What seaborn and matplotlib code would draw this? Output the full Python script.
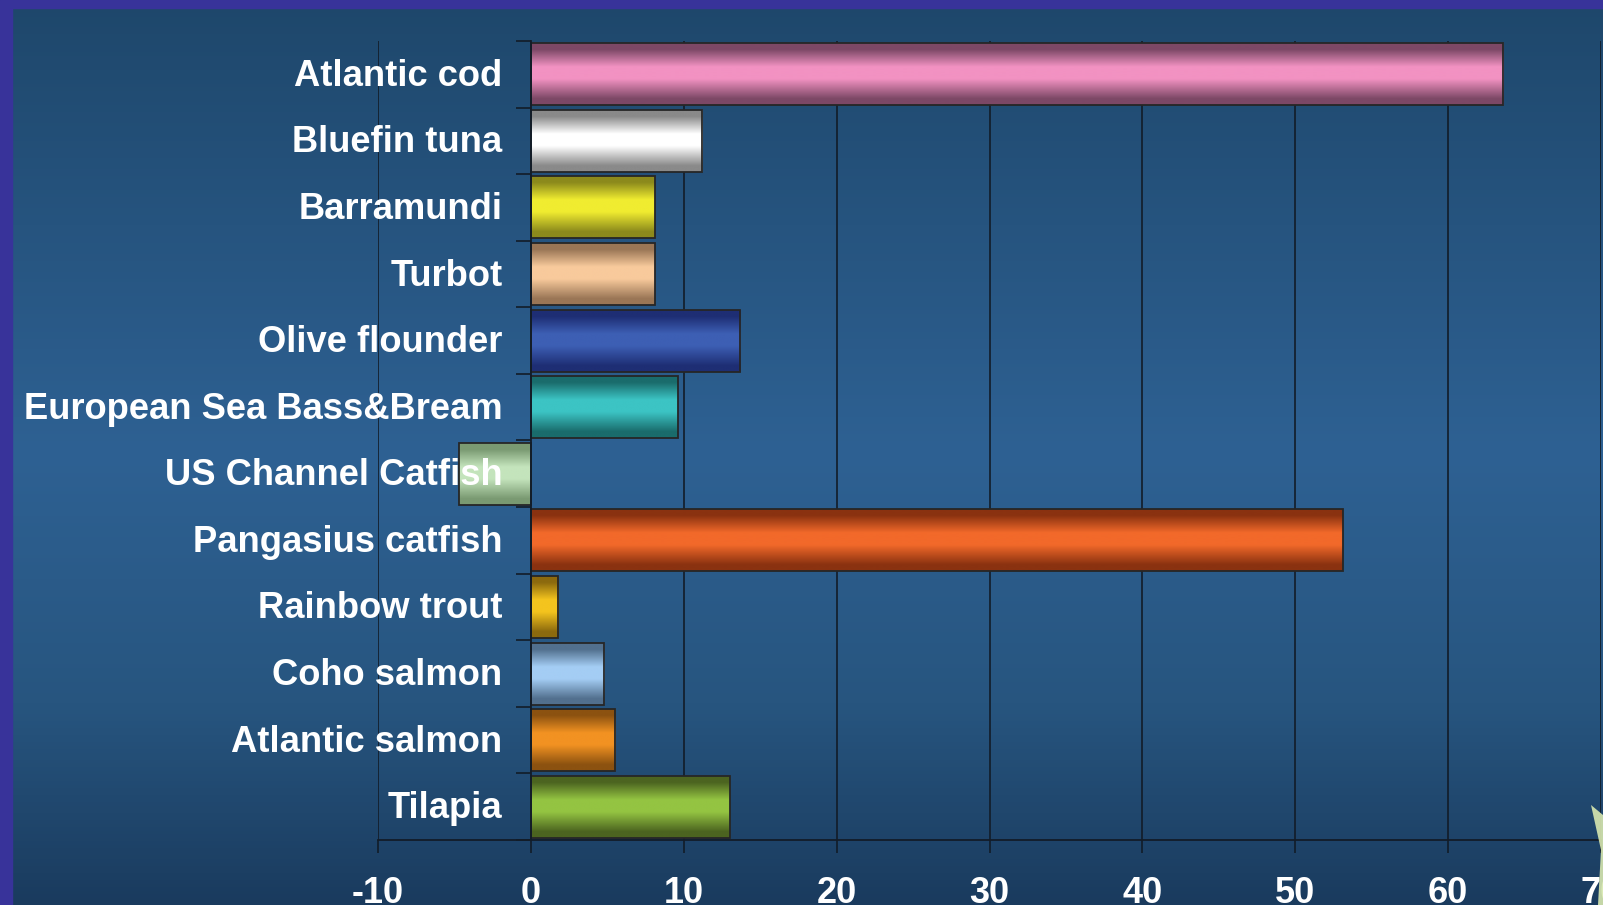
import numpy as np
import pandas as pd
import matplotlib
matplotlib.use("Agg")
import matplotlib.pyplot as plt
import seaborn as sns
from matplotlib.colors import LinearSegmentedColormap
from matplotlib.patches import Rectangle, Polygon

species = ["Atlantic cod", "Bluefin tuna", "Barramundi", "Turbot", "Olive flounder",
           "European Sea Bass&Bream", "US Channel Catfish", "Pangasius catfish",
           "Rainbow trout", "Coho salmon", "Atlantic salmon", "Tilapia"]
values = [63.6, 11.2, 8.1, 8.1, 13.7, 9.6, -4.7, 53.1, 1.8, 4.8, 5.5, 13.0]
light_colors = ["#f292c2", "#ffffff", "#f0ec30", "#f8ca9c", "#3d5fb4", "#3cc4c4",
                "#c4e4bc", "#f2692a", "#f4c41e", "#a4cdf4", "#f29222", "#94c442"]
dark_colors = ["#7c4866", "#8a8a8a", "#8c8a1c", "#9a7656", "#1e2e74", "#1a6c6c",
               "#7a9a72", "#8a3210", "#8c6a0e", "#52708e", "#8c5210", "#4c6420"]
xticks = [-10, 0, 10, 20, 30, 40, 50, 60, 70]

W, H = 1603, 905
fig = plt.figure(figsize=(W / 100, H / 100), dpi=100)

# background gradient
bg = fig.add_axes([0, 0, 1, 1], zorder=-10)
bg_cmap = LinearSegmentedColormap.from_list(
    "bg", [(0, "#1e476b"), (0.5, "#2e6193"), (0.78, "#27557f"), (1, "#1a3b5e")])
bg.imshow(np.linspace(0, 1, 256).reshape(-1, 1), aspect="auto", cmap=bg_cmap,
          extent=(0, 1, 1, 0))
bg.set_xlim(0, 1); bg.set_ylim(1, 0)
bg.axis("off")
# purple frame (top and left)
fig.patches.append(Rectangle((0, 1 - 8.5 / H), 1, 8.5 / H, transform=fig.transFigure,
                             color="#38339a", zorder=5))
fig.patches.append(Rectangle((0, 0), 12 / W, 1, transform=fig.transFigure,
                             color="#38339a", zorder=5))
# small pale-green leaf decoration at bottom-right edge
leaf = [(1591 / W, 1 - 805 / H), (1603 / W, 1 - 815 / H), (1603 / W, 1 - 905 / H),
        (1598 / W, 1 - 905 / H), (1601 / W, 1 - 850 / H)]
fig.patches.append(Polygon(leaf, closed=True, transform=fig.transFigure,
                           facecolor="#d8e8b0", edgecolor="none", alpha=0.9, zorder=6))

ax = fig.add_axes([378 / W, 65 / H, (1601 - 378) / W, (864 - 65) / H])
ax.patch.set_alpha(0)

df = pd.DataFrame({"species": species, "value": values})
sns.barplot(data=df, x="value", y="species", orient="h", ax=ax, width=0.93,
            color="white", edgecolor="#262626", linewidth=1.3, zorder=3)

# gradient fills for bars
for patch, lc, dc in zip(ax.patches, light_colors, dark_colors):
    x0, y0 = patch.get_x(), patch.get_y()
    w, h = patch.get_width(), patch.get_height()
    cmap = LinearSegmentedColormap.from_list(
        "b", [(0, dc), (0.1, dc), (0.38, lc), (0.58, lc), (0.9, dc), (1, dc)])
    xa, xb = (x0, x0 + w) if w >= 0 else (x0 + w, x0)
    ax.imshow(np.linspace(0, 1, 128).reshape(-1, 1), aspect="auto", cmap=cmap,
              extent=(xa, xb, y0 + h, y0), zorder=2, interpolation="bilinear")
    patch.set_facecolor("none")
ax.set_xlim(-10, 70)
ax.set_ylim(11.5, -0.5)
ax.set_aspect("auto")

grid_c = "#121c28"
for xv in xticks:
    if xv != 0:
        ax.axvline(xv, color=grid_c, linewidth=1.2, zorder=1)

for s in ["top", "right"]:
    ax.spines[s].set_visible(False)
ax.spines["left"].set_position(("data", 0))
ax.spines["left"].set_color(grid_c)
ax.spines["left"].set_linewidth(1.3)
ax.spines["left"].set_zorder(4)
ax.spines["bottom"].set_color(grid_c)
ax.spines["bottom"].set_linewidth(1.3)

ax.set_xticks(xticks)
ax.set_xticklabels([str(v) for v in xticks], fontsize=26, fontweight="bold",
                   color="white", family="Liberation Sans")
ax.tick_params(axis="x", length=9, width=1.2, color=grid_c, pad=17)
ax.set_yticks(np.arange(-0.5, 12, 1))
ax.set_yticklabels([])
ax.tick_params(axis="y", length=11, width=1.2, color=grid_c, direction="out")
ax.set_xlabel("")
ax.set_ylabel("")

for i, name in enumerate(species):
    ax.text(-1.85, i + 0.03, name, ha="right", va="center", fontsize=26.2,
            fontweight="bold", color="white", family="Liberation Sans", zorder=10)

fig.savefig("out.png", dpi=100)
